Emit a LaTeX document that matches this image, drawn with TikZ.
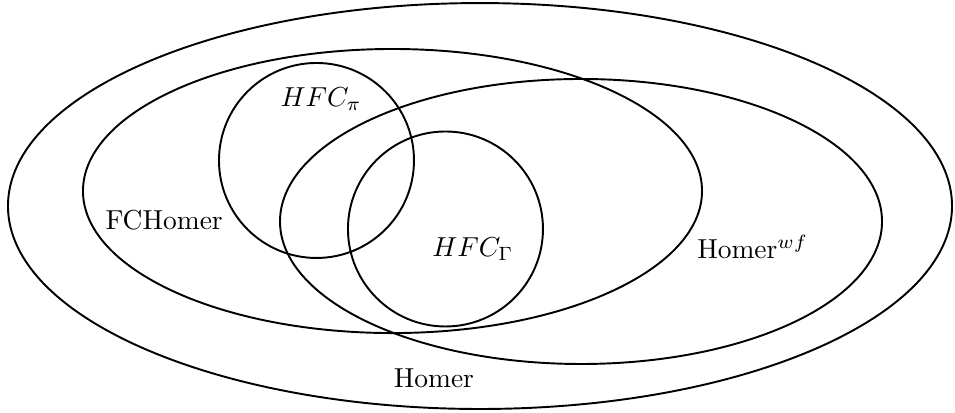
\documentclass[tikz,border=0pt]{standalone}
\usepackage{amsmath}
\usepackage{amssymb}
\usepackage{tikz}
\usetikzlibrary{positioning, shapes.geometric}

\begin{document}
\begin{tikzpicture}[
    set/.style={ellipse, draw=black, line width=0.7pt, inner sep=0pt},
    subset/.style={circle, draw=black, line width=0.7pt, inner sep=0pt, minimum size=2.496cm},
    lbl/.style={anchor=base west, inner sep=0pt}
]
\useasboundingbox (0,0) rectangle (12.224,-5.274);
% the sets
\node[set, minimum width=12.084cm, minimum height=5.196cm] (Homer) at (6.144,-2.637) {};
\node[set, minimum width=7.924cm, minimum height=3.636cm] (FCHomer) at (5.024,-2.445) {};
\node[set, minimum width=7.706cm, minimum height=3.648cm] (HomerWF) at (7.437,-2.835) {};
\node[subset] (HFCpi) at (4.051,-2.054) {};
\node[subset] (HFCGamma) at (5.702,-2.931) {};
% the names
\node[lbl] (LHFCpi) at (3.584,-1.366) {$HFC_\pi$};
\node[lbl] (LFCHomer) at (1.344,-2.938) {FCHomer};
\node[lbl] (LHFCGamma) at (5.526,-3.286) {$HFC_\Gamma$};
\node[lbl] (LHomerWF) at (8.918,-3.306) {Homer$^{wf}$};
\node[lbl] (LHomer) at (5.034,-4.957) {Homer};
\end{tikzpicture}
\end{document}
